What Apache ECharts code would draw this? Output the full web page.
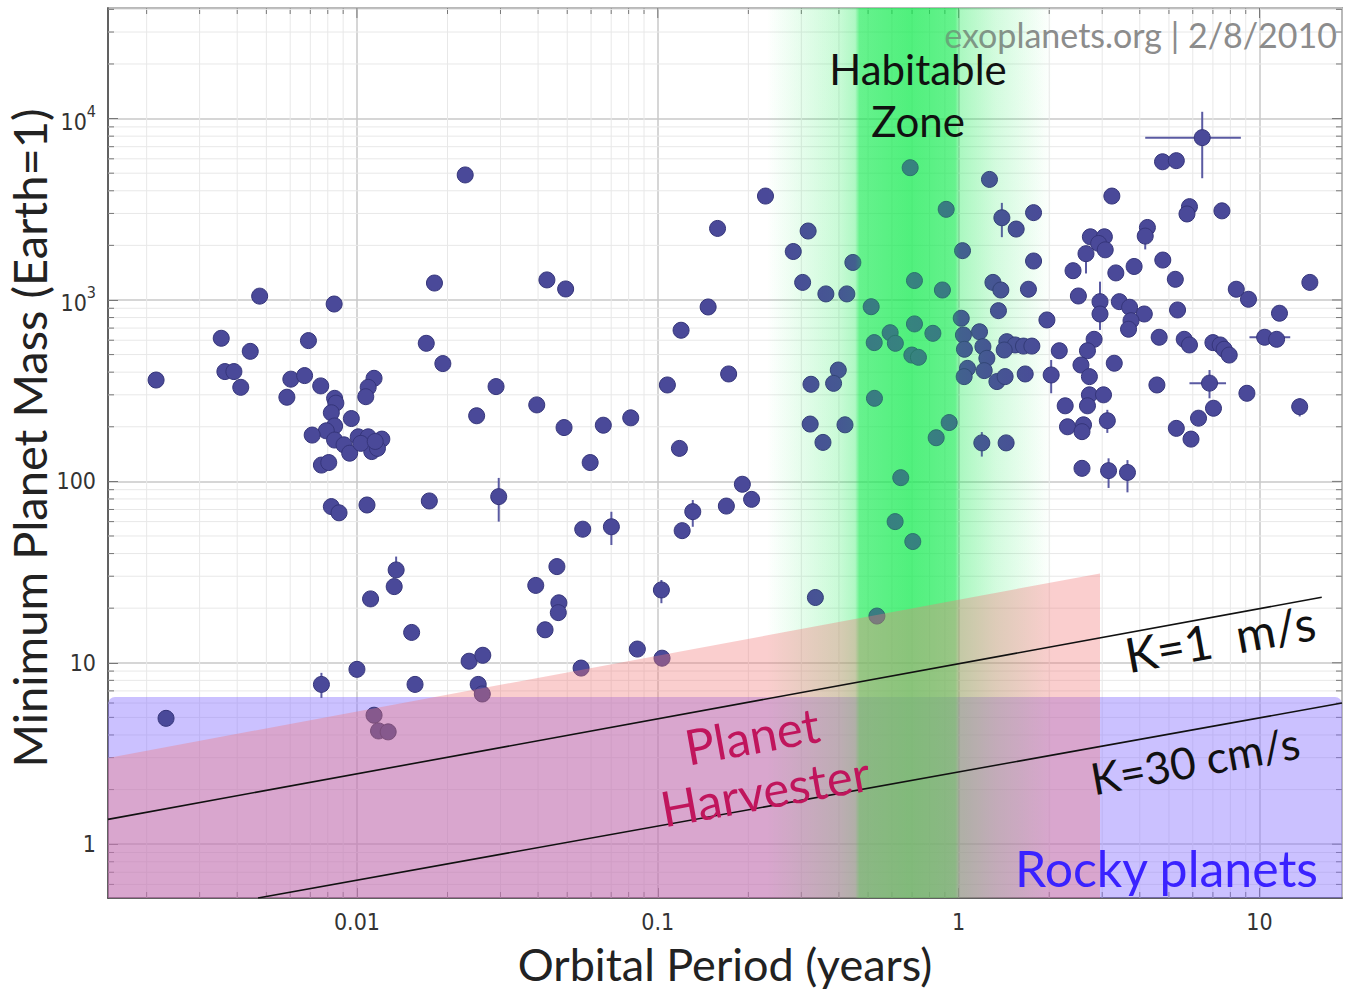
<!DOCTYPE html>
<html><head><meta charset="utf-8">
<script src="https://cdn.jsdelivr.net/npm/echarts@6/dist/echarts.min.js"></script>
<style>html,body{margin:0;padding:0;background:#fff}#c{width:1345px;height:994px}</style>
</head><body><div id="c"></div>
<script>
// ---- axis extents (years, Earth masses) ----
const X_MIN = 0.001488, X_MAX = 18.8;
const Y_MIN = 0.505, Y_MAX = 40700;
const X_TICKS = [0.01, 0.1, 1, 10];
const X_TICK_LABELS = ['0.01', '0.1', '1', '10'];
const Y_TICKS = [1, 10, 100, 1000, 10000];
const Y_TICK_LABELS = ['1', '10', '100', '10^3', '10^4'];
const X_DECADES = [0.001, 0.01, 0.1, 1, 10];
const Y_DECADES = [0.1, 1, 10, 100, 1000, 10000];
const MINOR_MULTIPLIERS = [2, 3, 4, 5, 6, 7, 8, 9];

// ---- planets: orbital period (years) and minimum mass (Earth = 1) ----
const PERIOD = [
 0.00475,0.0084,0.0181,0.00354,0.0069,0.00442,0.0170,0.00215,0.00364,0.0039,
 0.00411,0.00603,0.0067,0.00758,0.00585,0.0114,0.0109,0.0107,0.00843,0.00851,
 0.00822,0.00958,0.00843,0.00791,0.0071,0.00843,0.00906,0.0101,0.0109,0.0121,
 0.00946,0.0112,0.0117,0.0103,0.0115,0.00762,0.00806,0.00822,0.00872,0.0108,
 0.0174,0.0135,0.0133,0.0111,0.0152,0.0100,0.00762,0.0156,0.00232,0.0114,
 0.0118,0.0127,0.0229,0.158,0.0428,0.0494,0.147,0.1195,0.0193,0.172,
 0.0290,0.1076,0.0396,0.0250,0.0488,0.0659,0.0813,0.118,0.0596,0.0296,
 0.169,0.191,0.205,0.1307,0.1205,0.0563,0.0701,0.0462,0.0393,0.0469,
 0.0467,0.0422,0.1028,0.0855,0.1033,0.0556,0.0236,0.0262,0.0253,0.0261,
 0.690,1.266,0.228,0.909,1.774,1.392,1.553,0.316,0.282,1.03,
 1.774,0.445,0.713,0.303,0.883,0.362,0.425,1.30,1.381,1.706,
 0.512,1.356,1.965,1.02,0.713,0.592,0.821,0.616,0.524,1.037,
 1.173,1.045,1.204,0.699,0.735,1.446,1.541,1.642,1.751,1.417,
 1.241,1.070,1.043,1.216,1.34,1.427,1.664,2.03,0.398,0.384,
 0.323,0.525,0.321,0.419,0.930,0.842,0.354,1.194,1.438,0.642,
 0.615,0.704,0.334,0.535,6.45,4.76,5.29,3.23,5.85,5.74,
 7.50,4.24,4.17,2.74,3.05,2.92,3.07,2.65,4.77,3.83,
 2.40,3.33,5.25,14.7,8.37,9.19,2.50,2.95,3.42,3.70,
 4.14,2.95,5.34,11.65,3.74,3.67,2.82,4.64,5.62,5.85,
 7.0,7.40,7.63,7.93,10.4,11.4,2.16,2.68,2.55,3.29,
 2.72,4.56,6.82,9.08,2.72,3.03,2.68,2.26,7.03,13.6,
 6.27,2.30,2.60,2.57,3.12,5.29,5.92,2.57,3.15,3.64
];
const MASS = [
 1050,950,1240,615,597,521,577,362,403,403,
 330,366,383,336,291,370,330,293,287,270,
 239,222,202,190,180,169,159,176,176,171,
 143,146,152,162,166,123,127,72.6,67.1,74.1,
 78.0,32.5,26.3,22.5,14.7,9.2,7.6,7.6,4.94,5.14,
 4.21,4.16,4890,2480,1290,1150,915,681,446,391,
 333,340,264,230,198,204,224,152,127,82.4,
 73.1,96.4,79.6,68.1,53.5,54.5,56.2,33.9,26.7,21.4,
 18.9,15.2,25.2,11.9,10.6,9.35,10.2,11.0,7.6,6.73,
 5360,4620,3740,3160,3030,2840,2460,2400,1850,1870,
 1640,1610,1280,1250,1135,1080,1080,1250,1135,1146,
 918,873,776,793,738,660,655,577,582,641,
 668,535,553,497,483,589,565,557,557,530,
 477,420,378,408,355,378,391,386,411,347,
 343,287,207,205,211,174,164,163,163,104.8,
 60.0,46.6,22.9,18.1,7850,5780,5860,3740,3270,2980,
 3100,2510,2250,2230,2230,2050,1890,1800,1660,1530,
 1450,1410,1300,1250,1146,1009,1052,979,979,912,
 837,837,881,845,769,690,607,623,607,565,
 582,565,535,497,623,607,525,525,438,448,
 378,340,348,306,300,300,261,261,253,258,
 223,200,205,188,216,196,171,118,114.6,112
];

// ---- error bars ----
const ERR_PERIOD = [6.45,1.392,2.95,6.82,10.4,13.6,4.17,2.65,2.03,3.12,3.15,3.64,1.194,0.0135,0.00762,0.0296,0.0701,0.1307,0.1028];
const ERR_MASS   = [7850,2840,979,348,623,258,2250,1800,386,216,114.6,112,163,32.5,7.6,82.4,56.2,68.1,25.2];
const ERR_P_LOW  = [4.17,1.392,2.95,5.85,9.26,12.8,4.17,2.65,2.03,3.12,3.15,3.64,1.194,0.0135,0.00762,0.0296,0.0701,0.1307,0.1028];
const ERR_P_HIGH = [8.67,1.392,2.95,7.74,12.65,14.4,4.17,2.65,2.03,3.12,3.15,3.64,1.194,0.0135,0.00762,0.0296,0.0701,0.1307,0.1028];
const ERR_M_LOW  = [4690,2220,684,287,623,228,1900,1400,306,185,92,87,137,29.9,6.4,60,44.6,56.2,21.3];
const ERR_M_HIGH = [10900,3430,1262,411,623,287,2600,1970,467,248,134,131,187,38.5,8.8,104.5,68,78.9,28.6];

// ---- regions and detection limits ----
const HZ_PERIOD = [0.23, 2.05];
const ROCKY_MAX_MASS = 6.48;
const HARVESTER_PERIOD = [0.001488, 2.95];
const HARVESTER_MASS = [2.99, 31.1];
const K1_PERIOD = [0.001488, 16.1];
const K1_MASS = [1.37, 22.96];
const K30_PERIOD = [0.00469, 18.8];
const K30_MASS = [0.505, 6.0];

function labelIndex(v, ticks) {
  for (let i = 0; i < ticks.length; i++) {
    if (Math.abs(Math.log10(v) - Math.log10(ticks[i])) < 1e-6) return i;
  }
  return -1;
}

const chart = echarts.init(document.getElementById('c'), null, {renderer: 'svg'});

function renderGrid(params, api) {
  const children = [];
  const tl = api.coord([X_MIN, Y_MAX]);
  const br = api.coord([X_MAX, Y_MIN]);
  const gridStyle = {stroke: '#e8e8e8', lineWidth: 1};
  const tickStyle = {stroke: '#777', lineWidth: 1};
  X_DECADES.forEach(d => MINOR_MULTIPLIERS.forEach(m => {
    const v = d * m;
    if (v <= X_MIN || v >= X_MAX) return;
    const x = api.coord([v, Y_MIN])[0];
    children.push({type: 'line', shape: {x1: x, y1: tl[1], x2: x, y2: br[1]}, style: gridStyle});
    children.push({type: 'line', shape: {x1: x, y1: br[1], x2: x, y2: br[1] - 6}, style: tickStyle});
    children.push({type: 'line', shape: {x1: x, y1: tl[1], x2: x, y2: tl[1] + 6}, style: tickStyle});
  }));
  Y_DECADES.forEach(d => MINOR_MULTIPLIERS.forEach(m => {
    const v = d * m;
    if (v <= Y_MIN || v >= Y_MAX) return;
    const y = api.coord([X_MIN, v])[1];
    children.push({type: 'line', shape: {x1: tl[0], y1: y, x2: br[0], y2: y}, style: gridStyle});
    children.push({type: 'line', shape: {x1: tl[0], y1: y, x2: tl[0] + 6, y2: y}, style: tickStyle});
    children.push({type: 'line', shape: {x1: br[0], y1: y, x2: br[0] - 6, y2: y}, style: tickStyle});
  }));
  X_TICKS.forEach(v => {
    const x = api.coord([v, Y_MIN])[0];
    children.push({type: 'line', shape: {x1: x, y1: tl[1], x2: x, y2: tl[1] + 10}, style: tickStyle});
  });
  Y_TICKS.forEach(v => {
    const y = api.coord([X_MIN, v])[1];
    children.push({type: 'line', shape: {x1: br[0], y1: y, x2: br[0] - 10, y2: y}, style: tickStyle});
  });
  return {type: 'group', children};
}

function renderErr(params, api) {
  const c = api.coord([api.value(0), api.value(1)]);
  const xl = api.coord([api.value(2), api.value(1)]);
  const xh = api.coord([api.value(3), api.value(1)]);
  const yl = api.coord([api.value(0), api.value(4)]);
  const yh = api.coord([api.value(0), api.value(5)]);
  const st = {stroke: '#5a5aa2', lineWidth: 2};
  return {type: 'group', children: [
    {type: 'line', shape: {x1: xl[0], y1: c[1], x2: xh[0], y2: c[1]}, style: st},
    {type: 'line', shape: {x1: c[0], y1: yl[1], x2: c[0], y2: yh[1]}, style: st}
  ]};
}

// habitable-zone band, drawn as two layers (one under, one over the planets)
function makeHZ(k) {
  return function (params, api) {
    const a = api.coord([HZ_PERIOD[0], Y_MAX]);
    const b = api.coord([HZ_PERIOD[1], Y_MIN]);
    const c = al => 'rgba(20,235,80,' + (al * k).toFixed(3) + ')';
    return {type: 'rect', shape: {x: a[0], y: a[1], width: b[0] - a[0], height: b[1] - a[1]},
      style: {fill: new echarts.graphic.LinearGradient(0, 0, 1, 0, [
        {offset: 0, color: c(0)},
        {offset: 0.10, color: c(0.07)},
        {offset: 0.25, color: c(0.18)},
        {offset: 0.31, color: c(0.28)},
        {offset: 0.325, color: c(0.6)},
        {offset: 0.5, color: c(0.72)},
        {offset: 0.66, color: c(0.6)},
        {offset: 0.675, color: c(0.3)},
        {offset: 0.8, color: c(0.15)},
        {offset: 1, color: c(0)}
      ])}};
  };
}

function renderHarvester(params, api) {
  const p0 = api.coord([HARVESTER_PERIOD[0], Y_MIN]);
  const p1 = api.coord([HARVESTER_PERIOD[0], HARVESTER_MASS[0]]);
  const p2 = api.coord([HARVESTER_PERIOD[1], HARVESTER_MASS[1]]);
  const p3 = api.coord([HARVESTER_PERIOD[1], Y_MIN]);
  return {type: 'polygon', shape: {points: [p0, p1, p2, p3]}, style: {fill: 'rgba(240,118,118,0.36)'}};
}

function renderRocky(params, api) {
  const a = api.coord([X_MIN, ROCKY_MAX_MASS]);
  const b = api.coord([X_MAX, Y_MIN]);
  return {type: 'rect', shape: {x: a[0], y: a[1], width: b[0] - a[0], height: b[1] - a[1], r: [7, 7, 0, 0]},
    style: {fill: 'rgba(140,118,255,0.45)'}};
}

const tickFont = "'DejaVu Sans Condensed','Liberation Sans Narrow','DejaVu Sans',sans-serif";
const titleFont = "Lato,'Open Sans',sans-serif";

chart.setOption({
  animation: false,
  backgroundColor: '#fff',
  grid: {left: 108, right: 3, top: 8, bottom: 96, containLabel: false, outerBoundsMode: 'none',
    show: true, borderColor: '#666', borderWidth: 1.5, backgroundColor: '#fff'},
  xAxis: {
    type: 'log', logBase: 10, min: X_MIN, max: X_MAX,
    name: 'Orbital Period (years)', nameLocation: 'middle', nameGap: 46, nameMoveOverlap: false,
    nameTextStyle: {fontSize: 45, lineHeight: 40, fontFamily: titleFont, color: '#222'},
    axisLine: {show: true, lineStyle: {color: '#444', width: 1.5}},
    axisTick: {show: true, inside: true, length: 10, lineStyle: {color: '#777'}},
    axisLabel: {fontSize: 23, color: '#333', fontFamily: tickFont, margin: 12,
      showMinLabel: false, showMaxLabel: false,
      formatter: v => { const i = labelIndex(v, X_TICKS); return i < 0 ? '' : X_TICK_LABELS[i]; }},
    splitLine: {show: true, lineStyle: {color: '#c8c8c8', width: 1.5}}
  },
  yAxis: {
    type: 'log', logBase: 10, min: Y_MIN, max: Y_MAX,
    name: 'Minimum Planet Mass (Earth=1)', nameLocation: 'middle', nameGap: 57, nameMoveOverlap: false,
    nameTextStyle: {fontSize: 47, lineHeight: 44, fontFamily: titleFont, color: '#222', padding: [0, 0, 0, 30]},
    axisLine: {show: true, lineStyle: {color: '#444', width: 1.5}},
    axisTick: {show: true, inside: true, length: 10, lineStyle: {color: '#777'}},
    axisLabel: {fontSize: 23, color: '#333', fontFamily: tickFont, margin: 12,
      showMinLabel: false, showMaxLabel: false,
      formatter: v => {
        const i = labelIndex(v, Y_TICKS);
        if (i < 0) return '';
        const parts = Y_TICK_LABELS[i].split('^');
        return parts.length === 2 ? '{b|' + parts[0] + '}{s|' + parts[1] + '}' : parts[0];
      },
      rich: {
        b: {fontSize: 23, color: '#333', fontFamily: tickFont, lineHeight: 30, verticalAlign: 'bottom'},
        s: {fontSize: 16, color: '#333', fontFamily: tickFont, lineHeight: 17, verticalAlign: 'top'}
      }},
    splitLine: {show: true, lineStyle: {color: '#c8c8c8', width: 1.5}}
  },
  series: [
    {name: 'grid', type: 'custom', z: 1, silent: true, renderItem: renderGrid, data: [[X_MIN, Y_MIN]]},
    {name: 'rocky', type: 'custom', z: 2, silent: true, renderItem: renderRocky, data: [[X_MIN, Y_MIN]]},
    {name: 'habitable-under', type: 'custom', z: 3, silent: true, renderItem: makeHZ(0.83), data: [[HZ_PERIOD[0], Y_MIN]]},
    {name: 'errors', type: 'custom', z: 4, silent: true, renderItem: renderErr,
      data: ERR_PERIOD.map((p, i) => [p, ERR_MASS[i], ERR_P_LOW[i], ERR_P_HIGH[i], ERR_M_LOW[i], ERR_M_HIGH[i]])},
    {name: 'planets', type: 'scatter', z: 5, symbol: 'circle', symbolSize: 16,
      itemStyle: {color: '#4a4999', borderColor: '#35357a', borderWidth: 1, opacity: 1},
      data: PERIOD.map((p, i) => [p, MASS[i]])},
    {name: 'habitable-over', type: 'custom', z: 7, silent: true, renderItem: makeHZ(0.5), data: [[HZ_PERIOD[0], Y_MIN]]},
    {name: 'harvester', type: 'custom', z: 8, silent: true, renderItem: renderHarvester, data: [[HARVESTER_PERIOD[0], Y_MIN]]},
    {name: 'K=1 m/s', type: 'line', z: 9, symbol: 'none', silent: true,
      lineStyle: {color: '#111', width: 1.6}, data: K1_PERIOD.map((p, i) => [p, K1_MASS[i]])},
    {name: 'K=30 cm/s', type: 'line', z: 9, symbol: 'none', silent: true,
      lineStyle: {color: '#111', width: 1.6}, data: K30_PERIOD.map((p, i) => [p, K30_MASS[i]])}
  ],
  graphic: {elements: [
    {type: 'text', x: 1337, y: 34, z: 6, style: {text: 'exoplanets.org | 2/8/2010', fill: '#8c8c8c', font: '34px ' + titleFont, align: 'right', verticalAlign: 'middle'}},
    {type: 'text', x: 918, y: 69, z: 20, style: {text: 'Habitable', fill: '#111', font: '42px ' + titleFont, align: 'center', verticalAlign: 'middle'}},
    {type: 'text', x: 918, y: 121, z: 20, style: {text: 'Zone', fill: '#111', font: '42px ' + titleFont, align: 'center', verticalAlign: 'middle'}},
    {type: 'text', x: 1220, y: 638, z: 20, rotation: 0.178, style: {text: 'K=1  m/s', fill: '#111', font: '48px ' + titleFont, align: 'center', verticalAlign: 'middle'}},
    {type: 'text', x: 1195, y: 760, z: 20, rotation: 0.178, style: {text: 'K=30 cm/s', fill: '#111', font: '44px ' + titleFont, align: 'center', verticalAlign: 'middle'}},
    {type: 'text', x: 752, y: 735, z: 20, rotation: 0.178, style: {text: 'Planet', fill: '#c0155c', font: '49px ' + titleFont, align: 'center', verticalAlign: 'middle'}},
    {type: 'text', x: 765, y: 790, z: 20, rotation: 0.178, style: {text: 'Harvester', fill: '#c0155c', font: '49px ' + titleFont, align: 'center', verticalAlign: 'middle'}},
    {type: 'text', x: 1318, y: 868, z: 20, style: {text: 'Rocky planets', fill: '#3a22ff', font: '50px ' + titleFont, align: 'right', verticalAlign: 'middle'}}
  ]}
});
</script>
</body></html>
